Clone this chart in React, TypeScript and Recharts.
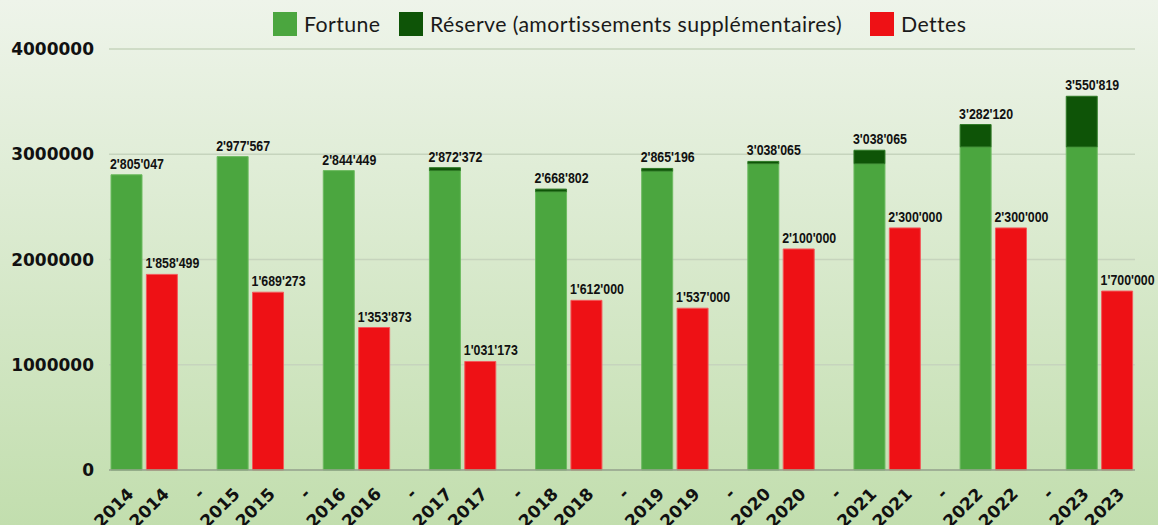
import { BarChart, Bar, XAxis, YAxis, CartesianGrid, LabelList } from "recharts";

const years = ["2014", "2015", "2016", "2017", "2018", "2019", "2020", "2021", "2022", "2023"];
const fortune = [2805047, 2977567, 2844449, 2845000, 2644000, 2840000, 2910000, 2910000, 3070000, 3070000];
const reserve = [0, 0, 0, 27372, 24802, 25196, 22000, 128065, 212120, 480819];
const dettes = [1858499, 1689273, 1353873, 1031173, 1612000, 1537000, 2100000, 2300000, 2300000, 1700000];
const fortuneLabels = ["2'805'047", "2'977'567", "2'844'449", "2'872'372", "2'668'802", "2'865'196", "3'038'065", "3'038'065", "3'282'120", "3'550'819"];
const detteLabels = ["1'858'499", "1'689'273", "1'353'873", "1'031'173", "1'612'000", "1'537'000", "2'100'000", "2'300'000", "2'300'000", "1'700'000"];
const yTicks = [0, 1000000, 2000000, 3000000, 4000000];
const seriesNames = ["Fortune", "Réserve (amortissements supplémentaires)", "Dettes"];
const colors = ["#4ba63f", "#0e5407", "#ee1115"];
const legendX = [273, 399, 870];

// each year: fortune stack, dettes, then an empty "-" slot
const rows = years.flatMap((y, i) => {
  const pair = [
    {
      cat: y,
      fortune: fortune[i],
      reserve: reserve[i],
      dettes: 0,
      // label sits on the top segment of the stack
      labelF: reserve[i] > 0 ? undefined : fortuneLabels[i],
      labelR: reserve[i] > 0 ? fortuneLabels[i] : undefined,
    },
    { cat: y, fortune: 0, reserve: 0, dettes: dettes[i], labelD: detteLabels[i] },
  ];
  return i < years.length - 1 ? [...pair, { cat: "-", fortune: 0, reserve: 0, dettes: 0 }] : pair;
});

const ValueLabel = (props: any) => {
  const { x, y, value } = props;
  if (value == null) return null;
  // narrow bold look of the original labels
  return (
    <text
      x={x - 1}
      y={y - 6}
      textAnchor="start"
      textLength={54}
      lengthAdjust="spacingAndGlyphs"
      fontFamily="'Liberation Sans', Arial, sans-serif"
      fontWeight="bold"
      fontSize={14}
      fill="#111"
    >
      {value}
    </text>
  );
};

const XTick = (props: any) => {
  const { x, y, payload } = props;
  const ax = x + 8;
  const ay = y + 17;
  return (
    <text
      x={ax}
      y={ay}
      transform={`rotate(-45, ${ax}, ${ay})`}
      textAnchor="end"
      fontFamily="'DejaVu Sans', sans-serif"
      fontWeight="bold"
      fontSize={17}
      fill="#111"
    >
      {payload.value}
    </text>
  );
};

export default function App() {
  return (
    <div
      style={{
        position: "relative",
        width: 1158,
        height: 525,
        background: "linear-gradient(to bottom, #eef4ea 0%, #c2deae 100%)",
        overflow: "hidden",
      }}
    >
      <style>{`body{margin:0}`}</style>
      {seriesNames.map((name, i) => (
        <div
          key={name}
          style={{
            position: "absolute",
            top: 12,
            left: legendX[i],
            height: 24,
            display: "flex",
            alignItems: "center",
            fontFamily: "Lato, sans-serif",
            fontSize: 21.3,
            letterSpacing: 0.4,
            color: "#1a1a1a",
            whiteSpace: "nowrap",
          }}
        >
          <span
            style={{
              width: 24,
              height: 24,
              background: colors[i],
              display: "inline-block",
              marginRight: 7,
            }}
          />
          <span>{name}</span>
        </div>
      ))}
      <BarChart
        width={1158}
        height={525}
        data={rows}
        margin={{ top: 49, right: 23, bottom: 0, left: 0 }}
        barCategoryGap={2}
      >
        <CartesianGrid vertical={false} stroke="#c6d4bd" strokeWidth={1.5} />
        <XAxis
          dataKey="cat"
          interval={0}
          height={55}
          tickLine={false}
          axisLine={{ stroke: "#93a38a", strokeWidth: 1.5 }}
          tick={<XTick />}
        />
        <YAxis
          width={109}
          domain={[0, 4000000]}
          ticks={yTicks}
          interval={0}
          tickLine={false}
          axisLine={false}
          tickMargin={9}
          tick={{
            fontFamily: "'DejaVu Sans', sans-serif",
            fontWeight: "bold",
            fontSize: 17,
            fill: "#111",
          }}
        />
        <Bar dataKey="fortune" stackId="a" fill={colors[0]} stroke="#6dbb60" strokeWidth={1} isAnimationActive={false}>
          <LabelList dataKey="labelF" content={<ValueLabel />} />
        </Bar>
        <Bar dataKey="reserve" stackId="a" fill={colors[1]} stroke="#2f7a26" strokeWidth={1} isAnimationActive={false}>
          <LabelList dataKey="labelR" content={<ValueLabel />} />
        </Bar>
        <Bar dataKey="dettes" stackId="a" fill={colors[2]} stroke="#f4585a" strokeWidth={1} isAnimationActive={false}>
          <LabelList dataKey="labelD" content={<ValueLabel />} />
        </Bar>
      </BarChart>
    </div>
  );
}
